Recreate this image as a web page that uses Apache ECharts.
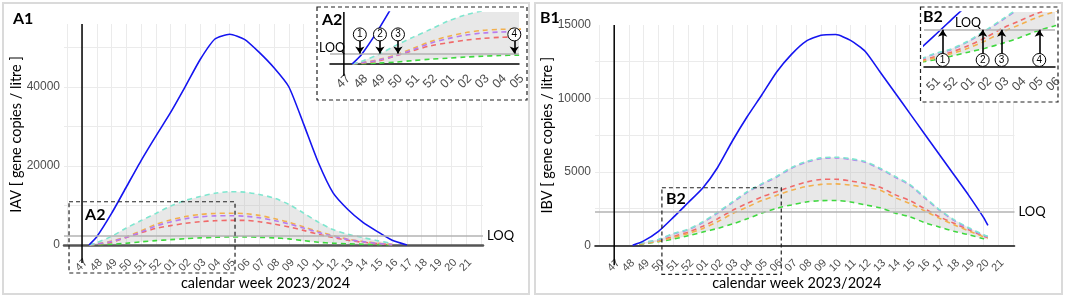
<!DOCTYPE html>
<html>
<head>
<meta charset="utf-8">
<script src="https://cdn.jsdelivr.net/npm/echarts@6/dist/echarts.min.js"></script>
<style>
  html, body { margin: 0; padding: 0; background: #fff; }
  #chart { width: 1065px; height: 298px; }
</style>
</head>
<body>
<div id="chart"></div>
<script>
const weekLabels = ['47', '48', '49', '50', '51', '52', '01', '02', '03', '04', '05', '06', '07', '08',
  '09', '10', '11', '12', '13', '14', '15', '16', '17', '18', '19', '20', '21']
const loq = 2300

// IAV (panel A), x = week index (0 = week 47)
const iavObsWeek = [0.47, 1, 2, 3, 4, 5, 6, 7, 8, 9, 10, 11, 12, 13, 14, 15, 16, 17, 18, 19, 20, 21, 22]
const iavObs = [0, 2100, 8000, 14700, 21400, 27600, 33600, 40200, 47000, 52200, 53400, 52100, 48800, 44900,
  40100, 30700, 20900, 13200, 9000, 5800, 3400, 1200, 0]
const iavModelWeek = [0.5, 1, 2, 3, 4, 5, 6, 7, 8, 9, 10, 11, 12, 13, 14, 15, 16, 17, 18, 19, 20, 21]
const iavCyan = [0, 600, 2200, 4300, 6200, 8000, 9900, 11300, 12300, 13100, 13500, 13400, 12800, 11900, 10300, 8100, 5800, 3900, 2700, 1900, 1100, 400]
const iavOrange = [0, 300, 1000, 2100, 3600, 5200, 6350, 7200, 7750, 8000, 8050, 7950, 7500, 6700, 5800, 4600, 3450, 2400, 1500, 900, 450, 100]
const iavPurple = [0, 280, 900, 1950, 3300, 4800, 5850, 6650, 7150, 7380, 7420, 7300, 6900, 6200, 5350, 4300, 3200, 2250, 1400, 850, 400, 100]
const iavRed = [0, 200, 700, 1900, 3100, 4200, 4900, 5500, 5900, 6150, 6250, 6250, 5900, 5300, 4600, 3700, 2700, 1900, 1200, 700, 350, 80]
const iavGreen = [0, 50, 200, 450, 800, 1100, 1350, 1600, 1800, 1950, 2050, 2050, 1950, 1800, 1550, 1100, 700, 450, 300, 200, 100, 30]

// IBV (panel B)
const ibvObsWeek = [1.25, 2, 3, 4, 5, 6, 7, 8, 9, 10, 11, 12, 13, 14, 15, 16, 17, 18, 19, 20, 21, 22, 23, 24, 25, 25.3]
const ibvObs = [0, 300, 950, 1900, 2900, 3900, 5300, 7100, 8750, 10250, 11800, 13000, 13900, 14300, 14350, 13950,
  13200, 11800, 10400, 9000, 7600, 6200, 4800, 3400, 1900, 1350]
const ibvModelWeek = [1.7, 2, 3, 4, 5, 6, 7, 8, 9, 10, 11, 12, 13, 14, 15, 16, 17, 18, 19, 20, 21, 22, 23, 24, 25, 25.3]
const ibvCyan = [150, 200, 400, 800, 1100, 1600, 2250, 2950, 3650, 4200, 4700, 5300, 5700, 5950, 6000, 5900, 5700, 5250, 4700, 4150, 3300, 2450, 1750, 1200, 720, 620]
const ibvPurple = [140, 190, 380, 770, 1060, 1550, 2200, 2900, 3600, 4150, 4650, 5250, 5650, 5900, 5950, 5850, 5650, 5200, 4650, 4100, 3250, 2400, 1700, 1150, 680, 580]
const ibvRed = [120, 150, 320, 600, 900, 1300, 1800, 2380, 2850, 3300, 3650, 4000, 4300, 4480, 4500, 4380, 4200, 3950, 3450, 3050, 2500, 1950, 1500, 1050, 620, 540]
const ibvOrange = [100, 130, 280, 520, 800, 1150, 1600, 2150, 2600, 3050, 3400, 3750, 4000, 4150, 4180, 4100, 3950, 3750, 3250, 2850, 2350, 1850, 1400, 980, 580, 500]
const ibvGreen = [80, 100, 250, 420, 650, 900, 1150, 1450, 1800, 2200, 2520, 2750, 2950, 3040, 3050, 2950, 2750, 2550, 2200, 1950, 1550, 1250, 950, 720, 450, 400]

// weeks where the curves reach the LOQ (insets)
const a2Marks = [0.92, 2.08, 3.12, 9.83]
const b2Marks = [4.51, 6.85, 7.96, 10.16]

const colors = {
  blue: '#1515f0',
  cyan: '#7fe6cf',
  orange: '#f2b04e',
  purple: '#b77cf0',
  red: '#f06a6a',
  green: '#3fd83f'
}
const dashOrder = ['green', 'red', 'orange', 'purple', 'cyan']

function pairs(xs, ys) {
  return xs.map((x, i) => [x, ys[i]])
}

function weekFmt(v) {
  const i = Math.round(v)
  if (Math.abs(v - i) > 1e-6 || i < 0 || i >= weekLabels.length) return ''
  return weekLabels[i]
}

function xAxisOf(g, min, max, inset, lineColor, lineWidth) {
  return {
    type: 'value',
    gridIndex: g,
    min: min,
    max: max,
    splitNumber: 30,
    minInterval: 1,
    maxInterval: 1,
    z: inset ? 20 : 0,
    name: inset ? '' : 'calendar week 2023/2024',
    nameLocation: 'middle',
    nameGap: 31,
    nameMoveOverlap: false,
    nameTextStyle: { fontFamily: 'Lato', fontSize: 14.5, color: '#000', padding: [0, 16, 0, 0] },
    axisLine: { onZero: false, lineStyle: { color: lineColor, width: lineWidth } },
    axisTick: { show: false },
    axisLabel: {
      rotate: 45,
      fontSize: inset ? 12.5 : 11,
      color: '#4d4d4d',
      margin: inset ? 8 : 12,
      verticalAlign: 'top',
      formatter: weekFmt
    },
    splitLine: {
      show: !inset,
      showMinLine: false,
      showMaxLine: false,
      lineStyle: { color: '#ebebeb', width: 1 }
    }
  }
}

function yAxisOf(g, max, interval, labelStep, name, inset) {
  return {
    type: 'value',
    gridIndex: g,
    min: 0,
    max: max,
    interval: interval,
    z: inset ? 20 : 0,
    name: name,
    nameLocation: 'middle',
    nameRotate: 90,
    nameGap: 40,
    nameMoveOverlap: false,
    nameTextStyle: { fontFamily: 'Lato', fontSize: 14.5, color: '#000' },
    axisLine: { show: false },
    axisTick: { show: false },
    axisLabel: {
      show: !inset,
      fontSize: 12,
      color: '#4d4d4d',
      margin: 4,
      formatter: v => (v % labelStep === 0 ? String(v) : '')
    },
    splitLine: {
      show: !inset,
      showMaxLine: false,
      lineStyle: { color: '#ebebeb', width: 1 }
    }
  }
}

// grey band between the lowest and highest model curve
function bandSeries(g, z, xs, lower, upper) {
  return {
    type: 'custom',
    xAxisIndex: g,
    yAxisIndex: g,
    z: z,
    silent: true,
    data: [0],
    renderItem: function (params, api) {
      const top = xs.map((x, i) => api.coord([x, upper[i]]))
      const bottom = xs.map((x, i) => api.coord([x, lower[i]])).reverse()
      const cs = params.coordSys
      return {
        type: 'polygon',
        shape: { points: top.concat(bottom) },
        style: { fill: 'rgba(185,185,185,0.33)', stroke: null },
        clipPath: { type: 'rect', shape: { x: cs.x, y: cs.y, width: cs.width, height: cs.height } }
      }
    }
  }
}

function panelSeries(g, inset, obsX, obs, modelX, model) {
  const z = inset ? 21 : 2
  const base = { type: 'line', xAxisIndex: g, yAxisIndex: g, symbol: 'none', smooth: 0.3, silent: true, z: z }
  const out = [bandSeries(g, z, modelX, model.green, model.cyan)]
  dashOrder.forEach(k => {
    out.push(Object.assign({}, base, {
      data: pairs(modelX, model[k]),
      lineStyle: { color: colors[k], width: 1.6, type: [5, 4] }
    }))
  })
  out.push(Object.assign({}, base, {
    data: pairs(obsX, obs),
    smooth: 0.2,
    lineStyle: { color: colors.blue, width: 1.6 },
    markLine: {
      silent: true,
      z: inset ? 22 : 5,
      symbol: 'none',
      lineStyle: { color: '#b3b3b3', width: 1.5, type: 'solid' },
      label: inset ? { show: false } : {
        show: true, position: 'end', formatter: 'LOQ', distance: 4,
        fontFamily: 'Lato', fontSize: 13, color: '#000'
      },
      data: [{ yAxis: loq }]
    }
  }))
  return out
}

// arrows + circled numbers marking where a curve reaches the LOQ
function markerSeries(g, weeks, circleY, fromY, toY, loqText) {
  return {
    type: 'line',
    xAxisIndex: g,
    yAxisIndex: g,
    data: [],
    z: 24,
    silent: true,
    markLine: {
      silent: true,
      z: 25,
      symbol: ['none', 'arrow'],
      symbolSize: 7,
      label: { show: false },
      lineStyle: { color: '#000', width: 1.6, type: 'solid' },
      data: weeks.map(w => [{ coord: [w, fromY] }, { coord: [w, toY] }])
    },
    markPoint: {
      silent: true,
      z: 26,
      symbol: 'circle',
      symbolSize: 13,
      itemStyle: { color: '#fff', borderColor: '#000', borderWidth: 1 },
      label: { show: true, formatter: '{b}', color: '#000', fontSize: 10, fontFamily: 'Liberation Sans' },
      data: weeks.map((w, i) => ({ name: String(i + 1), coord: [w, circleY] })).concat([{
        name: 'LOQ',
        coord: loqText,
        symbolSize: 0,
        label: { show: true, formatter: 'LOQ', fontFamily: 'Lato', fontSize: 12.5, color: '#000' }
      }])
    }
  }
}

const iavModel = { cyan: iavCyan, orange: iavOrange, purple: iavPurple, red: iavRed, green: iavGreen }
const ibvModel = { cyan: ibvCyan, orange: ibvOrange, purple: ibvPurple, red: ibvRed, green: ibvGreen }

const chart = echarts.init(document.getElementById('chart'))

chart.setOption({
  animation: false,
  backgroundColor: '#fff',
  textStyle: { fontFamily: 'Liberation Sans' },
  grid: [
    { left: 64, top: 24, width: 419, height: 221, outerBoundsMode: 'none' },
    { left: 330, top: 12, width: 189, height: 52, z: 20, outerBoundsMode: 'none' },
    { left: 595, top: 25, width: 419.5, height: 220.3, outerBoundsMode: 'none' },
    { left: 924, top: 12, width: 131, height: 54.7, z: 20, outerBoundsMode: 'none' }
  ],
  xAxis: [
    xAxisOf(0, -1.22, 27.15, false, '#555', 2.5),
    xAxisOf(1, -0.8, 10.1, true, '#000', 1.5),
    xAxisOf(2, -1.3, 27.1, false, '#111', 1.6),
    xAxisOf(3, 3.42, 11.08, true, '#000', 1.5)
  ],
  yAxis: [
    yAxisOf(0, 56000, 10000, 20000, 'IAV [ gene copies / litre ]', false),
    yAxisOf(1, 12000, 2000, 2000, '', true),
    yAxisOf(2, 15000, 2500, 5000, 'IBV [ gene copies / litre ]', false),
    yAxisOf(3, 3400, 1000, 1000, '', true)
  ],
  series: [].concat(
    panelSeries(0, false, iavObsWeek, iavObs, iavModelWeek, iavModel),
    panelSeries(1, true, iavObsWeek, iavObs, iavModelWeek, iavModel),
    panelSeries(2, false, ibvObsWeek, ibvObs, ibvModelWeek, ibvModel),
    panelSeries(3, true, ibvObsWeek, ibvObs, ibvModelWeek, ibvModel),
    [markerSeries(1, a2Marks, 6830, 5360, loq + 150, [-0.69, 3680])],
    [markerSeries(3, b2Marks, 418, 790, loq, [6.0, 2730])]
  )
})

// frame, panel tags, axis lines at week 47 and zoom boxes
const px = (g, pt) => chart.convertToPixel({ gridIndex: g }, pt)

function vline(g, top, below) {
  const a = px(g, [0, top])
  const b = px(g, [0, 0])
  return {
    type: 'line', z: 22, silent: true,
    shape: { x1: a[0], y1: a[1], x2: b[0], y2: b[1] + below },
    style: { stroke: '#000', lineWidth: 1.5 }
  }
}

function zoomBox(g, from, to, below, tag) {
  const a = px(g, from)
  const b = px(g, to)
  return [{
    type: 'rect', z: 9, silent: true,
    shape: { x: a[0], y: a[1], width: b[0] - a[0], height: b[1] - a[1] + below },
    style: { fill: 'none', stroke: '#222', lineWidth: 1.2, lineDash: [4, 3] }
  }, {
    type: 'text', z: 9, silent: true, x: a[0] + tag[0], y: a[1] + tag[1],
    style: { text: tag[2], font: 'bold 16px Lato', fill: '#000' }
  }]
}

function frame(x, y, w, h, z, fill, stroke, dash) {
  return {
    type: 'rect', z: z, silent: true,
    shape: { x: x, y: y, width: w, height: h },
    style: { fill: fill, stroke: stroke, lineWidth: dash ? 1.2 : 2, lineDash: dash ? [4, 3] : null }
  }
}

function tag(x, y, text, z) {
  return { type: 'text', z: z, silent: true, x: x, y: y, style: { text: text, font: 'bold 16px Lato', fill: '#000' } }
}

chart.setOption({
  graphic: {
    elements: [
      frame(3, 3, 526, 291, 0, 'none', '#dadada', false),
      frame(535, 3, 527, 291, 0, 'none', '#dadada', false),
      tag(13, 11, 'A1', 5),
      tag(540, 10, 'B1', 5),
      vline(0, 56000, 18),
      vline(2, 15000, 20),
      frame(317, 7, 210, 93, 10, '#fff', '#222', true),
      frame(920.5, 7, 137.5, 95, 10, '#fff', '#222', true),
      vline(1, 12000, 12),
      tag(322, 12, 'A2', 25),
      tag(923, 9, 'B2', 25)
    ].concat(
      zoomBox(0, [-0.88, 10960], [10.36, 0], 28, [16, 5, 'A2']),
      zoomBox(2, [3.23, 3920], [11.31, 0], 29, [4, 3, 'B2'])
    )
  }
})
</script>
</body>
</html>
